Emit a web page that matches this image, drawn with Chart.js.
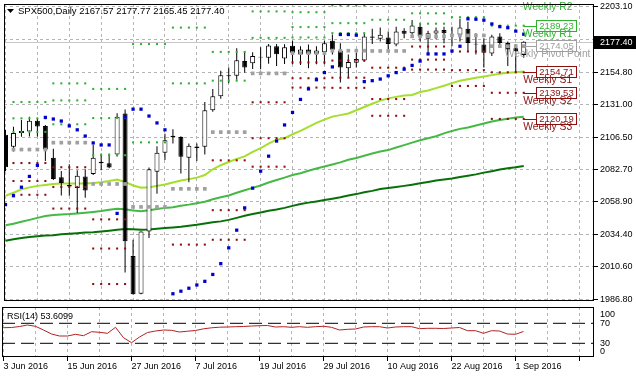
<!DOCTYPE html>
<html>
<head>
<meta charset="utf-8">
<script src="https://cdn.jsdelivr.net/npm/chart.js@4/dist/chart.umd.min.js"></script>
<style>
  html, body { margin: 0; padding: 0; background: #ffffff; }
  #wrap { position: relative; width: 636px; height: 379px; overflow: hidden; background: #fff; }
  canvas { position: absolute; left: 0; }
  #mainCanvas { top: 0; }
  #rsiCanvas { top: 305px; }
</style>
</head>
<body>
<div id="wrap">
  <canvas id="mainCanvas" width="636" height="305"></canvas>
  <canvas id="rsiCanvas" width="636" height="74"></canvas>
</div>
<script>
const FONT = "'Liberation Sans', Arial, sans-serif";
const symbolName = 'SPX500';
const timeframe = 'Daily';

const dates = ['2016-06-03','2016-06-06','2016-06-07','2016-06-08','2016-06-09','2016-06-10','2016-06-13','2016-06-14','2016-06-15','2016-06-16','2016-06-17','2016-06-20','2016-06-21','2016-06-22','2016-06-23','2016-06-24','2016-06-27','2016-06-28','2016-06-29','2016-06-30','2016-07-01','2016-07-04','2016-07-05','2016-07-06','2016-07-07','2016-07-08','2016-07-11','2016-07-12','2016-07-13','2016-07-14','2016-07-15','2016-07-18','2016-07-19','2016-07-20','2016-07-21','2016-07-22','2016-07-25','2016-07-26','2016-07-27','2016-07-28','2016-07-29','2016-08-01','2016-08-02','2016-08-03','2016-08-04','2016-08-05','2016-08-08','2016-08-09','2016-08-10','2016-08-11','2016-08-12','2016-08-15','2016-08-16','2016-08-17','2016-08-18','2016-08-19','2016-08-22','2016-08-23','2016-08-24','2016-08-25','2016-08-26','2016-08-29','2016-08-30','2016-08-31','2016-09-01','2016-09-02'];

const opens  = [2108.4,2099.5,2109.7,2110.8,2118.8,2115.0,2091.5,2076.9,2071.3,2069.1,2077.6,2079.3,2088.4,2087.3,2093.9,2124.2,2018.6,1990.7,2036.8,2081.0,2095.1,2107.7,2106.8,2091.5,2099.7,2099.5,2126.6,2137.0,2152.5,2152.1,2163.0,2161.4,2166.3,2165.5,2174.0,2165.0,2174.3,2167.9,2171.6,2168.4,2169.8,2178.1,2170.8,2157.7,2161.8,2163.4,2181.3,2179.6,2180.5,2175.2,2185.4,2183.7,2188.5,2179.6,2183.4,2186.1,2182.7,2182.5,2186.9,2175.9,2175.2,2168.7,2181.3,2176.4,2172.5,2167.57];
const highs  = [2112.1,2114.3,2119.3,2121.8,2120.8,2115.7,2098.0,2081.7,2086.6,2082.2,2082.9,2101.1,2094.6,2094.6,2124.4,2127.1,2030.7,2037.0,2084.2,2099.9,2109.2,2112.6,2107.3,2101.9,2101.9,2132.7,2142.4,2155.8,2158.2,2172.5,2170.3,2169.6,2173.2,2175.6,2175.6,2175.4,2178.1,2174.0,2175.2,2174.0,2178.1,2182.7,2176.2,2167.9,2169.1,2183.2,2186.9,2187.8,2184.9,2188.5,2187.3,2193.4,2190.9,2185.4,2187.8,2188.5,2188.5,2194.4,2192.2,2183.7,2180.0,2182.5,2183.7,2177.6,2175.4,2177.77];
const lows   = [2081.5,2096.0,2107.0,2107.2,2107.2,2089.0,2074.9,2063.5,2063.3,2050.5,2061.8,2078.6,2082.2,2083.7,2092.4,2006.5,1990.1,1990.4,2032.0,2064.7,2089.7,2101.9,2079.8,2073.2,2089.0,2093.9,2125.4,2135.2,2146.5,2149.2,2154.3,2157.2,2157.0,2161.1,2159.4,2160.9,2160.6,2160.1,2157.7,2160.6,2160.6,2167.9,2147.2,2150.9,2158.2,2162.5,2175.6,2177.6,2171.6,2174.0,2180.0,2182.5,2177.6,2167.9,2179.1,2176.2,2174.0,2177.6,2170.3,2167.9,2158.2,2166.7,2172.7,2159.4,2154.5,2165.45];
const closes = [2084.4,2109.7,2111.3,2118.8,2114.5,2097.5,2075.6,2072.7,2070.2,2078.1,2067.1,2091.5,2087.3,2084.2,2121.8,2029.6,1990.4,2036.8,2082.9,2095.1,2104.3,2106.6,2092.2,2100.4,2098.7,2126.6,2137.0,2152.6,2151.8,2163.6,2158.2,2166.7,2165.6,2174.5,2168.1,2173.2,2169.1,2171.6,2168.5,2170.8,2176.3,2171.4,2158.2,2162.3,2164.5,2181.3,2180.3,2182.5,2175.6,2184.9,2183.2,2189.3,2181.3,2183.7,2185.6,2183.7,2182.2,2187.8,2176.4,2175.2,2169.1,2181.3,2176.4,2171.6,2170.3,2177.40];

const sarValues = [2056.7,2063.3,2069.6,2077.6,2085.8,2121.3,2120.1,2118.6,2115.0,2112.1,2107.5,2102.4,2100.9,2100.9,2050.2,2121.5,2127.4,2127.4,2122.3,2117.2,2112.1,1990.7,1992.6,1994.8,1997.2,1999.9,2005.0,2013.0,2024.7,2037.8,2054.3,2068.9,2081.5,2092.6,2103.8,2115.7,2125.0,2134.6,2142.4,2149.2,2154.5,2158.7,2182.7,2182.7,2182.2,2147.8,2148.5,2149.7,2152.1,2154.5,2157.0,2159.8,2163.0,2168.3,2168.3,2168.3,2170.5,2174.0,2194.3,2194.0,2193.3,2190.5,2188.5,2187.7,2185.2,2182.9];

const maFast = [2063.3,2065.5,2068.0,2069.5,2070.6,2071.3,2072.0,2072.4,2072.4,2072.4,2072.4,2072.7,2073.3,2074.2,2075.3,2073.5,2070.9,2069.3,2069.5,2070.6,2071.6,2073.1,2074.6,2075.6,2076.7,2078.6,2082.9,2085.9,2088.3,2090.6,2092.4,2095.7,2098.6,2101.9,2104.8,2105.9,2108.8,2111.3,2114.3,2117.2,2119.7,2121.9,2123.0,2124.2,2126.6,2129.0,2131.4,2133.7,2135.4,2136.5,2137.6,2137.9,2140.1,2141.2,2143.0,2144.8,2146.7,2148.5,2149.6,2150.7,2151.6,2152.6,2153.6,2154.3,2154.8,2155.3];
const maMid  = [2041.4,2042.5,2044.0,2045.4,2046.9,2048.3,2049.1,2049.4,2049.7,2050.2,2050.7,2051.3,2052.0,2052.9,2053.6,2053.3,2052.3,2051.8,2052.6,2053.4,2054.3,2054.8,2055.8,2056.7,2057.8,2058.9,2060.7,2062.2,2063.5,2065.5,2067.3,2069.1,2070.9,2073.1,2074.9,2076.7,2078.6,2080.0,2081.8,2083.4,2084.9,2086.4,2088.0,2089.9,2091.3,2092.9,2094.6,2096.0,2097.1,2099.0,2100.8,2102.6,2104.4,2105.9,2107.3,2109.5,2111.3,2112.8,2113.9,2115.3,2116.8,2118.3,2119.4,2120.3,2121.2,2121.8];
const maSlow = [2030.0,2031.0,2032.0,2032.7,2033.2,2033.8,2034.1,2034.7,2035.1,2035.6,2036.0,2036.3,2036.8,2037.4,2038.1,2038.7,2038.5,2038.1,2038.3,2038.9,2039.4,2039.8,2040.3,2041.1,2041.8,2042.7,2043.6,2044.3,2045.4,2046.9,2048.5,2049.8,2050.9,2052.1,2053.1,2054.3,2055.8,2057.1,2058.2,2059.1,2060.1,2061.1,2062.2,2063.5,2064.5,2065.8,2066.9,2068.2,2069.1,2069.8,2070.6,2071.5,2072.5,2073.5,2074.6,2075.3,2076.0,2077.1,2078.1,2079.1,2080.4,2081.5,2082.7,2083.7,2084.4,2085.3];

const rsiPeriod = 14;
const rsiValues = [61.2,61.6,63.6,66.6,64.0,56.6,48.6,44.6,44.6,48.0,45.2,53.2,52.0,50.0,62.0,41.2,31.2,42.6,51.6,54.6,56.6,56.0,52.6,54.2,55.6,59.0,61.0,62.2,62.6,63.2,63.6,64.6,65.2,65.6,62.6,63.2,62.0,63.2,62.0,63.2,64.0,62.0,56.6,58.0,58.6,62.6,63.2,63.2,60.6,62.6,63.2,63.2,59.2,60.0,60.0,59.6,60.6,61.6,55.2,55.2,50.0,55.2,54.6,48.6,48.0,53.6099];

// weekly pivot levels, one entry per week (week of 3 Jun first)
const weekR3    = [null,2132.7,2146.5,2142.4,null,null,null,null,2199.2,2204.2,null,null,null,null];
const weekR2    = [null,2120.6,2133.9,2120.8,2175.6,2187.8,2169.8,2199.8,2188.2,2191.1,2206.5,2198.4,2207.2,2208.57];
const weekR1    = [null,2110.6,2116.2,2093.3,2102.8,2146.5,2148.5,2180.2,2180.5,2183.7,2193.6,2190.7,2195.5,2189.23];
const weekPivot = [null,2097.5,2102.6,2072.0,2055.0,2068.4,2110.4,2153.9,2168.9,2170.7,2170.5,2181.3,2182.0,2174.05];
const weekS1    = [null,2087.5,2084.4,2045.8,null,2027.1,2089.5,2132.5,2162.0,2163.4,2158.1,2173.8,2170.1,2154.71];
const weekS2    = [null,2074.2,2069.8,2024.2,null,null,2052.6,2105.9,2150.3,2150.7,2134.9,2164.1,2156.3,2139.53];
const weekS3    = [null,2064.0,2053.8,1997.9,null,null,2030.7,2084.8,2143.4,2143.2,2122.5,2156.7,2144.6,2120.19];

const priceTicks = [1986.80,2010.60,2034.40,2058.90,2082.70,2106.50,2131.00,2154.80,2179.00,2203.10];
const rsiTicks = [0,30,70,100];
const rsiLevels = [70,30];
const bidPrice = 2177.40;

// ---------- helpers ----------
const MONTHS = ['Jan','Feb','Mar','Apr','May','Jun','Jul','Aug','Sep','Oct','Nov','Dec'];
function fmtDate(s){ const d=new Date(s+'T00:00:00Z'); return d.getUTCDate()+' '+MONTHS[d.getUTCMonth()]+' '+d.getUTCFullYear(); }
const weekOf = []; { let w=0; dates.forEach((d,i)=>{ if(i>0){ const p=new Date(dates[i-1]+'T00:00:00Z').getUTCDay(), c=new Date(d+'T00:00:00Z').getUTCDay(); if(c<p) w++; } weekOf.push(w); }); }
const idx = dates.map((_,i)=>i);
const lastIdx = dates.length-1;
const BARS_VISIBLE = 74;
const X_MIN = -0.1875, X_MAX = X_MIN + BARS_VISIBLE;
const GRID_STEP = 4, LABEL_STEP = 8;

const GRID = '#b4b4b4';
const C_R = '#2fb32f', C_P = '#a0a0a0', C_S = '#8b1010';

function levelPoints(arr){ const pts=[]; idx.forEach(i=>{ const v=arr[weekOf[i]]; if(v!=null) pts.push({x:i,y:v}); }); return pts; }
function dotSet(arr,color,r,style){ return {type:'line', data:levelPoints(arr), showLine:false, pointStyle:style||'rect', pointRadius:r, pointHoverRadius:r, pointBackgroundColor:color, pointBorderWidth:0, order:1}; }

Chart.defaults.font.family = FONT;
Chart.defaults.color = '#000';

const xTicksBuilder = (s)=>{ const t=[]; for(let v=0; v<=X_MAX; v+=GRID_STEP) t.push({value:v}); s.ticks=t; };

// ---------- main chart ----------
const mainDecor = {
  id:'mainDecor',
  beforeDatasetsDraw(chart){
    const {ctx, chartArea:a, scales:{y}} = chart;
    const py = Math.round(y.getPixelForValue(bidPrice))+0.5;
    ctx.save(); ctx.strokeStyle='#c8c8c8'; ctx.lineWidth=1;
    ctx.beginPath(); ctx.moveTo(a.left,py); ctx.lineTo(a.right,py); ctx.stroke(); ctx.restore();
  },
  afterDraw(chart){
    const {ctx, chartArea:a, scales:{x,y}} = chart;
    const wk = weekOf[lastIdx];
    const levels = [
      {v:weekR2[wk], name:'Weekly R2', color:C_R},
      {v:weekR1[wk], name:'Weekly R1', color:C_R},
      {v:weekPivot[wk], name:'Weekly Pivot Point', color:C_P},
      {v:weekS1[wk], name:'Weekly S1', color:C_S},
      {v:weekS2[wk], name:'Weekly S2', color:C_S},
      {v:weekS3[wk], name:'Weekly S3', color:C_S}
    ];
    ctx.save();
    ctx.beginPath(); ctx.rect(a.left, a.top, a.right-a.left, a.bottom-a.top); ctx.clip();
    const x0 = x.getPixelForValue(lastIdx);
    const bx = Math.round(x.getPixelForValue(lastIdx+1.5));
    ctx.font = '9.5px '+FONT; ctx.lineWidth=1;
    levels.forEach(l=>{
      const py = Math.round(y.getPixelForValue(l.v));
      if (py < a.top) return;
      ctx.strokeStyle=l.color;
      ctx.beginPath(); ctx.moveTo(x0,py+0.5); ctx.lineTo(bx,py+0.5); ctx.stroke();
      ctx.fillStyle='#fff'; ctx.fillRect(bx,py-6,41,12);
      ctx.strokeRect(bx+0.5,py-5.5,40,11);
      ctx.fillStyle=l.color; ctx.textAlign='center'; ctx.textBaseline='middle';
      ctx.fillText(l.v.toFixed(2), bx+20.5, py+0.5);
    });
    ctx.restore();
    ctx.save();
    ctx.beginPath(); ctx.rect(a.left, 0, a.right-a.left, a.bottom); ctx.clip();
    ctx.font = '10.3px '+FONT;
    const cx = x.getPixelForValue(lastIdx+3);
    levels.forEach(l=>{
      const py = y.getPixelForValue(l.v);
      ctx.fillStyle=l.color; ctx.textAlign='center'; ctx.textBaseline='middle';
      ctx.fillText(l.name, cx, py+8);
    });
    ctx.restore();
    // frame
    ctx.save(); ctx.strokeStyle='#000'; ctx.lineWidth=1;
    ctx.strokeRect(a.left+0.5, a.top+0.5, a.right-a.left-1, a.bottom-a.top-1);
    // bid price box on axis
    const py = Math.round(y.getPixelForValue(bidPrice));
    ctx.fillStyle='#000'; ctx.fillRect(a.right, py-6, chart.width-a.right, 13);
    ctx.fillStyle='#fff'; ctx.font='9px '+FONT; ctx.textAlign='left'; ctx.textBaseline='middle';
    ctx.fillText(bidPrice.toFixed(2), a.right+6, py+0.5);
    // header
    ctx.fillStyle='#000';
    ctx.beginPath(); ctx.moveTo(7,9); ctx.lineTo(14,9); ctx.lineTo(10.5,13); ctx.closePath(); ctx.fill();
    ctx.font='9.5px '+FONT; ctx.textAlign='left'; ctx.textBaseline='middle';
    const L = lastIdx;
    ctx.fillText(`${symbolName},${timeframe} ${opens[L].toFixed(2)} ${highs[L].toFixed(2)} ${lows[L].toFixed(2)} ${closes[L].toFixed(2)}`, 18, 11);
    ctx.restore();
  }
};

new Chart(document.getElementById('mainCanvas'), {
  type:'line',
  data:{ datasets:[
    {type:'line', data:idx.map(i=>({x:i,y:sarValues[i]})), showLine:false, pointStyle:'rect', pointRadius:2.3, pointBackgroundColor:'#0000cc', pointBorderWidth:0, order:0},
    dotSet(weekR3,C_R,1.45), dotSet(weekR2,C_R,1.45), dotSet(weekR1,C_R,1.45),
    dotSet(weekPivot,C_P,2.6),
    dotSet(weekS1,C_S,1.45), dotSet(weekS2,C_S,1.45), dotSet(weekS3,C_S,1.45),
    {type:'bar', data:idx.map(i=>({x:i,y:[opens[i],closes[i]]})), grouped:false, barThickness:5, borderWidth:1, borderColor:'#000', borderSkipped:false, inflateAmount:0,
      backgroundColor:idx.map(i=>closes[i]>=opens[i]?'#ffffff':'#000000'), order:2},
    {type:'bar', data:idx.map(i=>({x:i,y:[lows[i],highs[i]]})), grouped:false, barThickness:1, borderWidth:0, inflateAmount:0, backgroundColor:'#000', order:3},
    {type:'line', data:idx.map(i=>({x:i,y:maFast[i]})), borderColor:'#a3df2c', borderWidth:2, pointRadius:0, tension:0, order:4},
    {type:'line', data:idx.map(i=>({x:i,y:maMid[i]})), borderColor:'#44b944', borderWidth:2, pointRadius:0, tension:0, order:5},
    {type:'line', data:idx.map(i=>({x:i,y:maSlow[i]})), borderColor:'#087008', borderWidth:2, pointRadius:0, tension:0, order:6}
  ]},
  options:{
    responsive:false, animation:false, devicePixelRatio:1, events:[],
    layout:{padding:{left:2, top:2, right:0, bottom:1}},
    plugins:{legend:{display:false}, tooltip:{enabled:false}, title:{display:false}},
    scales:{
      x:{type:'linear', min:X_MIN, max:X_MAX, offset:false,
         afterBuildTicks:xTicksBuilder,
         afterFit:(s)=>{ s.height=0; s.paddingLeft=0; s.paddingRight=0; },
         ticks:{display:false},
         grid:{color:GRID, drawTicks:false, offset:false, borderDash:[3,3]},
         border:{display:false, dash:[3,3]}},
      y:{type:'linear', position:'right', min:1985.34, max:2205.28,
         afterBuildTicks:(s)=>{ s.ticks = priceTicks.map(v=>({value:v})); },
         afterFit:(s)=>{ s.width=42; s.paddingTop=0; s.paddingBottom=0; },
         ticks:{font:{size:9}, color:'#000', padding:2, callback:(v)=>Number(v).toFixed(2)},
         grid:{color:GRID, tickLength:4, tickColor:'#000', tickBorderDash:[], borderDash:[3,3]},
         border:{display:false, dash:[3,3]}}
    }
  },
  plugins:[mainDecor]
});

// ---------- RSI chart ----------
const rsiDecor = {
  id:'rsiDecor',
  afterDraw(chart){
    const {ctx, chartArea:a, scales:{y}} = chart;
    ctx.save(); ctx.strokeStyle='#000'; ctx.lineWidth=1;
    ctx.strokeRect(a.left+0.5, a.top+0.5, a.right-a.left-1, a.bottom-a.top-1);
    ctx.fillStyle='#000'; ctx.font='9px '+FONT; ctx.textAlign='left'; ctx.textBaseline='middle';
    rsiTicks.forEach(v=>{
      let py = y.getPixelForValue(v);
      py = Math.min(Math.max(py, a.top+8), a.bottom-5);
      ctx.fillText(String(v), a.right+6, py);
    });
    ctx.fillText(`RSI(${rsiPeriod}) ${rsiValues[rsiValues.length-1].toFixed(4)}`, 7, a.top+10);
    ctx.restore();
  }
};

new Chart(document.getElementById('rsiCanvas'), {
  type:'line',
  data:{ datasets:[
    {data:idx.map(i=>({x:i,y:rsiValues[i]})), borderColor:'#b22222', borderWidth:1, pointRadius:0, tension:0, order:0},
    ...rsiLevels.map(v=>({data:[{x:X_MIN,y:v},{x:X_MAX,y:v}], borderColor:'#000', borderWidth:1, borderDash:[13,6], pointRadius:0, order:1}))
  ]},
  options:{
    responsive:false, animation:false, devicePixelRatio:1, events:[],
    layout:{padding:{left:2, top:2, right:0, bottom:0}},
    plugins:{legend:{display:false}, tooltip:{enabled:false}},
    scales:{
      x:{type:'linear', min:X_MIN, max:X_MAX, offset:false,
         afterBuildTicks:xTicksBuilder,
         afterFit:(s)=>{ s.height=22; s.paddingLeft=0; s.paddingRight=0; },
         ticks:{align:'start', maxRotation:0, autoSkip:false, padding:0, font:{size:9}, color:'#000',
           callback:(v)=> (v%LABEL_STEP===0 && v<dates.length) ? fmtDate(dates[v]) : ''},
         grid:{color:GRID, tickLength:4, tickColor:(c)=> (c.tick && c.tick.value%LABEL_STEP===0) ? '#000' : 'rgba(0,0,0,0)', tickBorderDash:[], borderDash:[3,3], offset:false},
         border:{display:false, dash:[3,3]}},
      y:{type:'linear', position:'right', min:2.6, max:102.6,
         afterFit:(s)=>{ s.width=42; s.paddingTop=0; s.paddingBottom=0; },
         ticks:{display:false}, grid:{display:false}, border:{display:false}}
    }
  },
  plugins:[rsiDecor]
});
</script>
</body>
</html>
